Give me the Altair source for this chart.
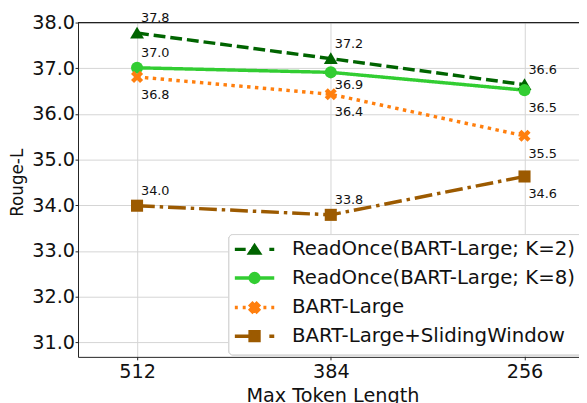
import altair as alt
import pandas as pd

# ---- data ----
max_tokens = [512, 384, 256]
series_names = [
    "ReadOnce(BART-Large; K=2)",
    "ReadOnce(BART-Large; K=8)",
    "BART-Large",
    "BART-Large+SlidingWindow",
]
rouge_k2 = [37.77, 37.21, 36.64]
rouge_k8 = [37.01, 36.91, 36.52]
rouge_bart = [36.81, 36.43, 35.52]
rouge_sliding = [33.99, 33.79, 34.63]
side_k2 = ["above", "above", "above"]
side_k8 = ["above", "near", "below"]
side_bart = ["below", "below", "below"]
side_sliding = ["above", "above", "below"]
y_ticks = [31, 32, 33, 34, 35, 36, 37, 38]
x_ticks = [512, 384, 256]

# ---- styles ----
colors = ["#006400", "#32cd32", "#ff7f0e", "#9c5a00"]
dashes = [[12, 5], [1, 0], [3.5, 4.5], [18, 5, 3.5, 5]]
marker_paths = [
    "M0,-1.05L1.15,0.9L-1.15,0.9Z",
    "circle",
    "M0.5,-1L1,-0.5L0.5,0L1,0.5L0.5,1L0,0.5L-0.5,1L-1,0.5L-0.5,0L-1,-0.5L-0.5,-1L0,-0.5Z",
    "square",
]
legend_paths = [
    "M-3.33,0H-1.5M-0.6,0H0.6M2.5,0H3.33M0,-0.6L0.8,0.6L-0.8,0.6Z",
    "M-3.33,0H3.33M-0.75,0A0.75,0.75,0,1,1,0.75,0A0.75,0.75,0,1,1,-0.75,0Z",
    "M-3.33,0H-2.83M-2,0H-1.5M1.5,0H2M2.83,0H3.33"
    "M0.35,-0.7L0.7,-0.35L0.35,0L0.7,0.35L0.35,0.7L0,0.35L-0.35,0.7L-0.7,0.35L-0.35,0L-0.7,-0.35L-0.35,-0.7L0,-0.35Z",
    "M-3.33,0H-0.5M2.5,0H3.33M-0.75,-0.75H0.75V0.75H-0.75Z",
]
legend_row_y = [230, 259, 289, 318]
label_dy = {"above": -11, "near": 17, "below": 22}

rows = []
for name, vals, sides in zip(
    series_names,
    [rouge_k2, rouge_k8, rouge_bart, rouge_sliding],
    [side_k2, side_k8, side_bart, side_sliding],
):
    for t, v, s in zip(max_tokens, vals, sides):
        rows.append({"series": name, "tokens": t, "rouge": v, "side": s, "label": f"{v:.1f}"})
df = pd.DataFrame(rows)
legend_df = pd.DataFrame({"series": series_names})

FONT = "DejaVu Sans"
W, H = 508, 339

x_enc = alt.X(
    "tokens:Q",
    scale=alt.Scale(domain=[551, 220], nice=False, zero=False),
    axis=alt.Axis(values=x_ticks, format="d", title="Max Token Length", titleX=258),
)
y_enc = alt.Y(
    "rouge:Q",
    scale=alt.Scale(domain=[30.68, 38.0], nice=False, zero=False),
    axis=alt.Axis(values=y_ticks, format=".1f", title="Rouge-L", titleY=162),
)
color_enc = alt.Color("series:N", scale=alt.Scale(domain=series_names, range=colors), legend=None)

base = alt.Chart(df)

lines = base.mark_line(strokeWidth=3.5).encode(
    x=x_enc,
    y=y_enc,
    color=color_enc,
    strokeDash=alt.StrokeDash("series:N", scale=alt.Scale(domain=series_names, range=dashes), legend=None),
)

point_layers = []
for name, path in zip(series_names, marker_paths):
    point_layers.append(
        base.transform_filter(alt.datum.series == name)
        .mark_point(shape=path, filled=True, size=150, opacity=1)
        .encode(x="tokens:Q", y="rouge:Q", color=color_enc)
    )

text_style = dict(align="left", baseline="alphabetic", dx=4, fontSize=13, font=FONT, color="#111")
label_layers = []
for side, dy in label_dy.items():
    label_layers.append(
        base.transform_filter(alt.datum.side == side)
        .mark_text(dy=dy, **text_style)
        .encode(x="tokens:Q", y="rouge:Q", text="label:N")
    )

top_spine = alt.Chart(legend_df).mark_rule(color="#222", strokeWidth=1).encode(
    x=alt.value(0), x2=alt.value(W), y=alt.value(0)
)

# ---- legend (drawn as layers) ----
legend_box = alt.Chart(legend_df).mark_rect(
    fill="white", fillOpacity=0.85, stroke="#d4d4d4", strokeWidth=1, cornerRadius=4
).encode(x=alt.value(153), x2=alt.value(540), y=alt.value(215), y2=alt.value(337))

legend_layers = [legend_box]
for name, path, col, ry in zip(series_names, legend_paths, colors, legend_row_y):
    one = alt.Chart(legend_df).transform_filter(alt.datum.series == name)
    legend_layers.append(
        one.mark_point(shape=path, size=144, filled=True, fill=col, stroke=col, strokeWidth=3.5, opacity=1).encode(
            x=alt.value(179), y=alt.value(ry)
        )
    )
    legend_layers.append(
        one.mark_text(align="left", baseline="middle", fontSize=20, font=FONT, color="#111").encode(
            x=alt.value(217), y=alt.value(ry), text="series:N"
        )
    )

chart = (
    alt.layer(lines, *point_layers, *label_layers, top_spine, *legend_layers)
    .properties(
        width=W,
        height=H,
        autosize=alt.AutoSizeParams(type="none"),
        padding={"left": 71, "top": 12, "right": 0, "bottom": 44},
    )
    .configure_view(stroke=None)
    .configure_axis(
        labelFont=FONT,
        titleFont=FONT,
        labelFontSize=19.5,
        titleFontWeight="normal",
        labelColor="#111",
        titleColor="#111",
        domainColor="#222",
        tickColor="#222",
        tickSize=3,
        gridColor="#d4d4d4",
        gridWidth=1,
    )
    .configure_axisY(labelPadding=0.5, titleFontSize=17, titlePadding=5)
    .configure_axisX(labelPadding=3, titleFontSize=19.5, titlePadding=6)
)

chart.save("out.html", embed_options={"renderer": "svg", "actions": False})
